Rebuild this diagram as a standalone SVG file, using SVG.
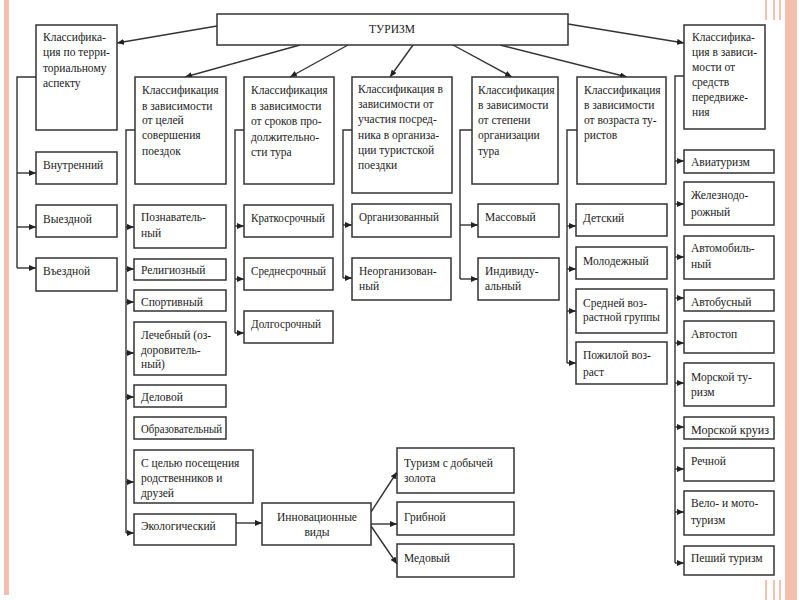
<svg xmlns="http://www.w3.org/2000/svg" width="800" height="600" viewBox="0 0 800 600">
<defs>
<marker id="ah" markerWidth="8" markerHeight="6" refX="7" refY="3" orient="auto" markerUnits="userSpaceOnUse">
<path d="M0,0 L7,3 L0,6 z" fill="#222"/>
</marker>
<style>
.b{fill:#fff;stroke:#333;stroke-width:1.5}
.t{font-family:"Liberation Serif","Times New Roman",serif;font-size:11.5px;fill:#222}
.c{fill:none;stroke:#333;stroke-width:1.4}
.a{fill:none;stroke:#333;stroke-width:1.4;marker-end:url(#ah)}
.p{fill:#f4bfae}
</style>
</defs>
<rect width="800" height="600" fill="#fff"/>
<rect class="p" x="4" y="0" width="5" height="595"/>
<rect class="p" x="785" y="0" width="12" height="600"/>
<rect class="p" x="765" y="0" width="2" height="20"/>
<rect class="p" x="773" y="0" width="2" height="20"/>
<rect class="p" x="779" y="0" width="2" height="20"/>
<rect class="p" x="765" y="580" width="2" height="20"/>
<rect class="p" x="773" y="580" width="2" height="20"/>
<rect class="p" x="779" y="580" width="2" height="20"/>

<g id="connectors">
<line class="a" x1="217" y1="26" x2="117" y2="43"/>
<line class="a" x1="300" y1="45" x2="185" y2="77"/>
<line class="a" x1="348" y1="45" x2="290" y2="77"/>
<line class="a" x1="413" y1="45" x2="390" y2="77"/>
<line class="a" x1="453" y1="45" x2="512" y2="77"/>
<line class="a" x1="500" y1="45" x2="627" y2="77"/>
<line class="a" x1="568" y1="24" x2="684" y2="43"/>
<polyline class="c" points="36,77 17,77 17,268"/>
<line class="a" x1="17" y1="173" x2="36" y2="173"/>
<line class="a" x1="17" y1="227" x2="36" y2="227"/>
<line class="a" x1="17" y1="268" x2="36" y2="268"/>
<polyline class="c" points="135,130 126,130 126,533"/>
<line class="a" x1="126" y1="227" x2="134" y2="227"/>
<line class="a" x1="126" y1="269" x2="134" y2="269"/>
<line class="a" x1="126" y1="302" x2="134" y2="302"/>
<line class="a" x1="126" y1="353" x2="134" y2="353"/>
<line class="a" x1="126" y1="397" x2="134" y2="397"/>
<line class="a" x1="126" y1="482" x2="134" y2="482"/>
<line class="a" x1="126" y1="533" x2="134" y2="533"/>
<line class="a" x1="236" y1="523" x2="262" y2="523"/>
<line class="a" x1="371" y1="512" x2="397" y2="472"/>
<line class="a" x1="371" y1="524" x2="397" y2="524"/>
<line class="a" x1="371" y1="526" x2="397" y2="564"/>
<polyline class="c" points="244,130 235,130 235,333"/>
<line class="a" x1="235" y1="226" x2="244" y2="226"/>
<line class="a" x1="235" y1="279" x2="244" y2="279"/>
<line class="a" x1="235" y1="333" x2="244" y2="333"/>
<polyline class="c" points="352,130 343,130 343,278"/>
<line class="a" x1="343" y1="225" x2="352" y2="225"/>
<line class="a" x1="343" y1="278" x2="352" y2="278"/>
<polyline class="c" points="472,130 460,130 460,279"/>
<line class="a" x1="460" y1="225" x2="478" y2="225"/>
<line class="a" x1="460" y1="279" x2="478" y2="279"/>
<polyline class="c" points="577,130 567,130 567,363"/>
<line class="a" x1="567" y1="226" x2="576" y2="226"/>
<line class="a" x1="567" y1="269" x2="576" y2="269"/>
<line class="a" x1="567" y1="311" x2="576" y2="311"/>
<line class="a" x1="567" y1="363" x2="576" y2="363"/>
<polyline class="c" points="684,76 675,76 675,563"/>
<line class="a" x1="675" y1="161" x2="684" y2="161"/>
<line class="a" x1="675" y1="204" x2="684" y2="204"/>
<line class="a" x1="675" y1="257" x2="684" y2="257"/>
<line class="a" x1="675" y1="298" x2="684" y2="298"/>
<line class="a" x1="675" y1="343" x2="684" y2="343"/>
<line class="a" x1="675" y1="383" x2="684" y2="383"/>
<line class="a" x1="675" y1="427" x2="684" y2="427"/>
<line class="a" x1="675" y1="469" x2="684" y2="469"/>
<line class="a" x1="675" y1="512" x2="684" y2="512"/>
<line class="a" x1="675" y1="563" x2="684" y2="563"/>
</g>

<g id="tourism"><rect class="b" x="217" y="14" width="351" height="31"/><text class="t" x="392" y="33" text-anchor="middle" font-size="13">ТУРИЗМ</text></g>

<g id="h-territory"><rect class="b" x="36" y="25" width="81" height="105"/>
<text class="t"><tspan x="43" y="41">Классифика-</tspan><tspan x="43" y="56">ция по терри-</tspan><tspan x="43" y="72">ториальному</tspan><tspan x="43" y="87">аспекту</tspan></text></g>
<g id="n-vnutr"><rect class="b" x="36" y="152" width="81" height="32"/><text class="t" x="43" y="169">Внутренний</text></g>
<g id="n-vyezd"><rect class="b" x="36" y="205" width="81" height="32"/><text class="t" x="43" y="223">Выездной</text></g>
<g id="n-vezd"><rect class="b" x="36" y="258" width="81" height="33"/><text class="t" x="43" y="275">Въездной</text></g>

<g id="h-goals"><rect class="b" x="135" y="77" width="91" height="107"/>
<text class="t"><tspan x="142" y="94">Классификация</tspan><tspan x="142" y="110">в зависимости</tspan><tspan x="142" y="124">от целей</tspan><tspan x="142" y="139">совершения</tspan><tspan x="142" y="155">поездок</tspan></text></g>
<g id="n-pozn"><rect class="b" x="134" y="205" width="92" height="43"/><text class="t"><tspan x="141" y="221">Познаватель-</tspan><tspan x="141" y="237">ный</tspan></text></g>
<g id="n-relig"><rect class="b" x="134" y="259" width="92" height="21"/><text class="t" x="141" y="274">Религиозный</text></g>
<g id="n-sport"><rect class="b" x="134" y="290" width="92" height="21"/><text class="t" x="141" y="306">Спортивный</text></g>
<g id="n-lech"><rect class="b" x="134" y="322" width="92" height="53"/><text class="t"><tspan x="141" y="339">Лечебный (оз-</tspan><tspan x="141" y="354">доровитель-</tspan><tspan x="141" y="368">ный)</tspan></text></g>
<g id="n-delo"><rect class="b" x="134" y="385" width="92" height="22"/><text class="t" x="141" y="401">Деловой</text></g>
<g id="n-obraz"><rect class="b" x="134" y="417" width="92" height="22"/><text class="t" x="141" y="433" textLength="81" lengthAdjust="spacingAndGlyphs">Образовательный</text></g>
<g id="n-rodst"><rect class="b" x="134" y="450" width="119" height="53"/><text class="t"><tspan x="141" y="467">С целью посещения</tspan><tspan x="141" y="482">родственников и</tspan><tspan x="141" y="497">друзей</tspan></text></g>
<g id="n-ekol"><rect class="b" x="134" y="514" width="102" height="31"/><text class="t" x="141" y="530">Экологический</text></g>
<g id="n-innov"><rect class="b" x="262" y="503" width="109" height="42"/><text class="t" text-anchor="middle"><tspan x="317" y="521">Инновационные</tspan><tspan x="317" y="536">виды</tspan></text></g>
<g id="n-gold"><rect class="b" x="397" y="448" width="117" height="45"/><text class="t"><tspan x="404" y="467">Туризм с добычей</tspan><tspan x="404" y="482">золота</tspan></text></g>
<g id="n-grib"><rect class="b" x="397" y="502" width="117" height="33"/><text class="t" x="404" y="521">Грибной</text></g>
<g id="n-med"><rect class="b" x="397" y="544" width="117" height="33"/><text class="t" x="404" y="562">Медовый</text></g>

<g id="h-duration"><rect class="b" x="244" y="77" width="90" height="107"/>
<text class="t"><tspan x="251" y="94">Классификация</tspan><tspan x="251" y="110">в зависимости</tspan><tspan x="251" y="125">от сроков про-</tspan><tspan x="251" y="141">должительно-</tspan><tspan x="251" y="156">сти тура</tspan></text></g>
<g id="n-krat"><rect class="b" x="244" y="205" width="89" height="32"/><text class="t" x="251" y="222" textLength="74" lengthAdjust="spacingAndGlyphs">Краткосрочный</text></g>
<g id="n-sred"><rect class="b" x="244" y="258" width="89" height="32"/><text class="t" x="251" y="275" textLength="75" lengthAdjust="spacingAndGlyphs">Среднесрочный</text></g>
<g id="n-dolg"><rect class="b" x="244" y="311" width="89" height="32"/><text class="t" x="251" y="328" textLength="70" lengthAdjust="spacingAndGlyphs">Долгосрочный</text></g>

<g id="h-mediator"><rect class="b" x="352" y="77" width="100" height="116"/>
<text class="t"><tspan x="358" y="93">Классификация в</tspan><tspan x="358" y="108">зависимости от</tspan><tspan x="358" y="123">участия посред-</tspan><tspan x="358" y="139">ника в организа-</tspan><tspan x="358" y="154">ции туристской</tspan><tspan x="358" y="169">поездки</tspan></text></g>
<g id="n-org"><rect class="b" x="352" y="204" width="99" height="33"/><text class="t" x="359" y="221" textLength="80" lengthAdjust="spacingAndGlyphs">Организованный</text></g>
<g id="n-neorg"><rect class="b" x="352" y="258" width="99" height="42"/><text class="t"><tspan x="359" y="275">Неорганизован-</tspan><tspan x="359" y="290">ный</tspan></text></g>

<g id="h-degree"><rect class="b" x="472" y="77" width="86" height="107"/>
<text class="t"><tspan x="478" y="94">Классификация</tspan><tspan x="478" y="109">в зависимости</tspan><tspan x="478" y="124">от степени</tspan><tspan x="478" y="139">организации</tspan><tspan x="478" y="155">тура</tspan></text></g>
<g id="n-mass"><rect class="b" x="478" y="204" width="81" height="33"/><text class="t" x="485" y="221">Массовый</text></g>
<g id="n-indiv"><rect class="b" x="478" y="258" width="81" height="42"/><text class="t"><tspan x="485" y="275">Индивиду-</tspan><tspan x="485" y="290">альный</tspan></text></g>

<g id="h-age"><rect class="b" x="577" y="77" width="89" height="107"/>
<text class="t"><tspan x="584" y="94">Классификация</tspan><tspan x="584" y="109">в зависимости</tspan><tspan x="584" y="124">от возраста ту-</tspan><tspan x="584" y="139">ристов</tspan></text></g>
<g id="n-det"><rect class="b" x="576" y="204" width="91" height="32"/><text class="t" x="583" y="222">Детский</text></g>
<g id="n-molod"><rect class="b" x="576" y="247" width="91" height="32"/><text class="t" x="583" y="265">Молодежный</text></g>
<g id="n-sredv"><rect class="b" x="576" y="289" width="91" height="44"/><text class="t"><tspan x="583" y="307">Средней воз-</tspan><tspan x="583" y="321" textLength="77" lengthAdjust="spacingAndGlyphs">растной группы</tspan></text></g>
<g id="n-pozh"><rect class="b" x="576" y="342" width="91" height="42"/><text class="t"><tspan x="583" y="359">Пожилой воз-</tspan><tspan x="583" y="376">раст</tspan></text></g>

<g id="h-transport"><rect class="b" x="684" y="25" width="81" height="104"/>
<text class="t"><tspan x="692" y="41">Классифика-</tspan><tspan x="692" y="56">ция в зависи-</tspan><tspan x="692" y="71">мости от</tspan><tspan x="692" y="86">средств</tspan><tspan x="692" y="101">передвиже-</tspan><tspan x="692" y="116">ния</tspan></text></g>
<g id="n-avia"><rect class="b" x="684" y="150" width="90" height="23"/><text class="t" x="691" y="166">Авиатуризм</text></g>
<g id="n-zhd"><rect class="b" x="684" y="182" width="90" height="43"/><text class="t"><tspan x="691" y="199">Железнодо-</tspan><tspan x="691" y="216">рожный</tspan></text></g>
<g id="n-avto"><rect class="b" x="684" y="236" width="90" height="43"/><text class="t"><tspan x="691" y="252">Автомобиль-</tspan><tspan x="691" y="268">ный</tspan></text></g>
<g id="n-bus"><rect class="b" x="684" y="290" width="90" height="21"/><text class="t" x="691" y="306">Автобусный</text></g>
<g id="n-stop"><rect class="b" x="684" y="321" width="90" height="32"/><text class="t" x="691" y="338">Автостоп</text></g>
<g id="n-more"><rect class="b" x="684" y="363" width="90" height="43"/><text class="t"><tspan x="691" y="381">Морской ту-</tspan><tspan x="691" y="396">ризм</tspan></text></g>
<g id="n-kruiz"><rect class="b" x="684" y="417" width="90" height="22"/><text class="t" x="691" y="434" textLength="78" lengthAdjust="spacingAndGlyphs">Морской круиз</text></g>
<g id="n-rech"><rect class="b" x="684" y="448" width="90" height="33"/><text class="t" x="691" y="465">Речной</text></g>
<g id="n-velo"><rect class="b" x="684" y="491" width="90" height="44"/><text class="t"><tspan x="691" y="507">Вело- и мото-</tspan><tspan x="691" y="524">туризм</tspan></text></g>
<g id="n-pesh"><rect class="b" x="684" y="546" width="90" height="29"/><text class="t" x="691" y="562">Пеший туризм</text></g>
</svg>
